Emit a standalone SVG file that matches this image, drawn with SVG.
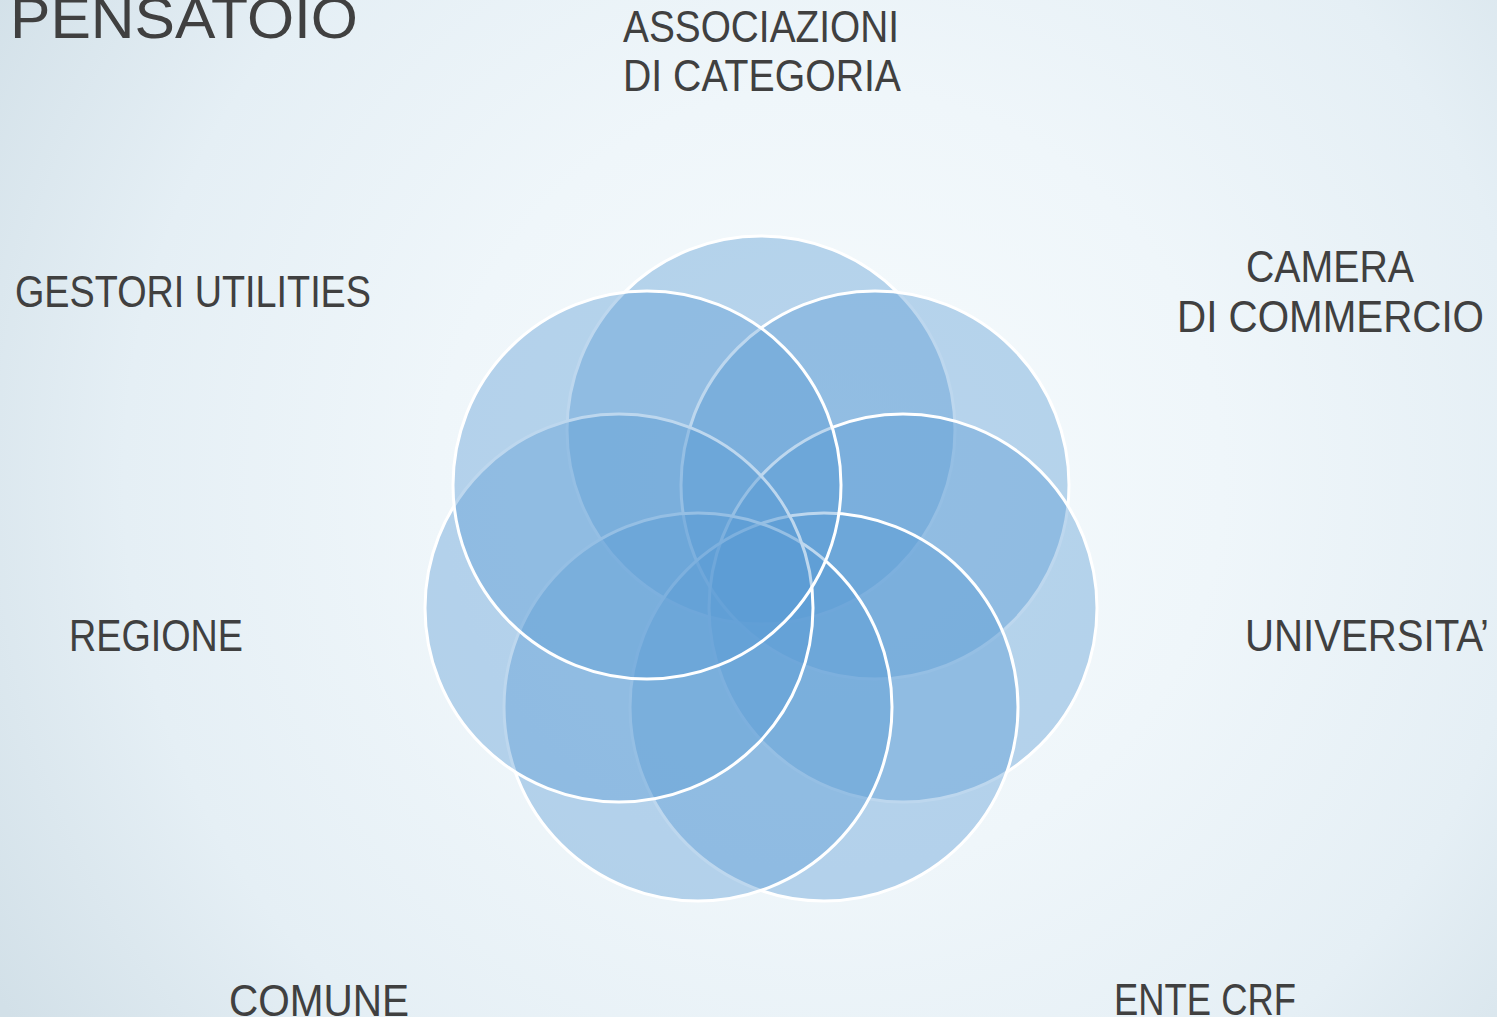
<svg xmlns="http://www.w3.org/2000/svg" width="1497" height="1017" viewBox="0 0 1497 1017">
<defs>
<radialGradient id="bg" gradientUnits="userSpaceOnUse" cx="830" cy="480" r="980">
<stop offset="0" stop-color="#F6FBFD"/>
<stop offset="0.4" stop-color="#EFF6FA"/>
<stop offset="0.72" stop-color="#E5EFF5"/>
<stop offset="1" stop-color="#D2E0E8"/>
</radialGradient>
</defs>
<style>
.c{fill:#5B9BD5;fill-opacity:0.4;stroke:#FFFFFF;stroke-width:3}
.t{font-family:"Liberation Sans",Arial,sans-serif;font-size:44px;fill:#404040}
</style>
<rect x="0" y="0" width="1497" height="1017" fill="url(#bg)"/>
<g id="circles">
<g id="n-top"><circle class="c" cx="761" cy="430" r="194"/></g>
<g id="n-upper-right"><circle class="c" cx="875" cy="485" r="194"/></g>
<g id="n-right"><circle class="c" cx="903" cy="608" r="194"/></g>
<g id="n-lower-right"><circle class="c" cx="824" cy="707" r="194"/></g>
<g id="n-lower-left"><circle class="c" cx="698" cy="707" r="194"/></g>
<g id="n-left"><circle class="c" cx="619" cy="608" r="194"/></g>
<g id="n-upper-left"><circle class="c" cx="647" cy="485" r="194"/></g>
</g>
<g id="labels">
<g id="title"><text class="t" x="10" y="38" style="font-size:58px" textLength="348" lengthAdjust="spacingAndGlyphs">PENSATOIO</text></g>
<g id="l-associazioni">
<text class="t" x="623" y="42" textLength="276" lengthAdjust="spacingAndGlyphs">ASSOCIAZIONI</text>
<text class="t" x="623" y="91" textLength="278" lengthAdjust="spacingAndGlyphs">DI CATEGORIA</text>
</g>
<g id="l-camera">
<text class="t" x="1246" y="282" textLength="168" lengthAdjust="spacingAndGlyphs">CAMERA</text>
<text class="t" x="1177" y="332" textLength="307" lengthAdjust="spacingAndGlyphs">DI COMMERCIO</text>
</g>
<g id="l-gestori"><text class="t" x="15" y="307" textLength="356" lengthAdjust="spacingAndGlyphs">GESTORI UTILITIES</text></g>
<g id="l-regione"><text class="t" x="69" y="651" textLength="174" lengthAdjust="spacingAndGlyphs">REGIONE</text></g>
<g id="l-universita"><text class="t" x="1245" y="651" textLength="244" lengthAdjust="spacingAndGlyphs">UNIVERSITA’</text></g>
<g id="l-comune"><text class="t" x="229" y="1016" textLength="180" lengthAdjust="spacingAndGlyphs">COMUNE</text></g>
<g id="l-ente"><text class="t" x="1114" y="1015" textLength="182" lengthAdjust="spacingAndGlyphs">ENTE CRF</text></g>
</g>
</svg>
